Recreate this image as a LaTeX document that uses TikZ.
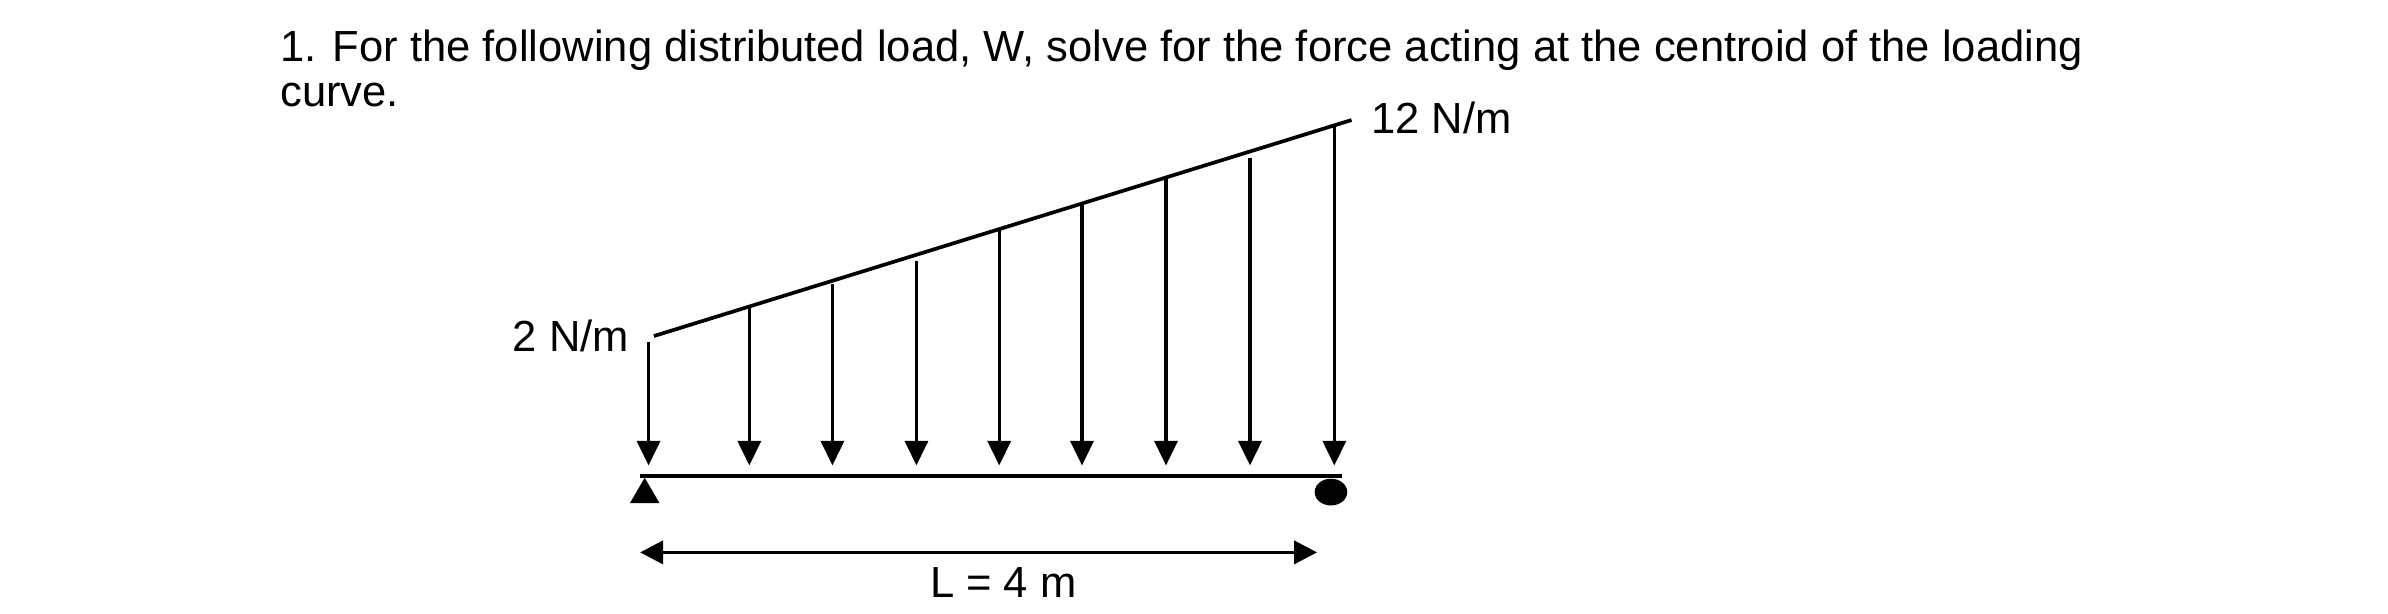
\documentclass[tikz,border=0pt]{standalone}
\usepackage{fontspec}
\setmainfont{Liberation Sans}
\usetikzlibrary{arrows.meta}
\begin{document}
\begin{tikzpicture}[x=1pt,y=-1pt,
  ln/.style={line width=2.4pt},
  load/.style={line width=2.2pt,-{Triangle[width=15pt,length=16pt]}},
  txt/.style={font=\fontsize{28.3}{32}\selectfont,inner sep=0pt}]
\useasboundingbox (0,0) rectangle (1552,399);
\node[txt,anchor=base west] (t1) at (182,40) {1. For the following distributed load, W, solve for the force acting at the centroid of the loading};
\node[txt,anchor=base west] (t2) at (182,69) {curve.};
\coordinate (s0) at (425,218.4);
\coordinate (s1) at (878.4,78);
\draw[ln] (s0) -- (s1);
\node[txt,anchor=base west] (hi) at (891,87) {12 N/m};
\node[txt,anchor=base east] (lo) at (409,228.5) {2 N/m};
\foreach \x/\t [count=\i] in {421.5/222,487/199.3,541/184.6,595.6/169.6,649.4/149,703.2/132.6,757.8/116.5,812.4/102.9,867.2/81.9}{
  \coordinate (a\i) at (\x,\t);
  \coordinate (b\i) at (\x,302.5);
  \draw[load] (a\i) -- (b\i);
}
\coordinate (bl) at (416,309.5);
\coordinate (br) at (872,309.5);
\draw[ln] (bl) -- (br);
\fill (419,310.5) -- (428.6,327) -- (409.4,327) -- cycle;
\fill (865,319.8) ellipse (10.6 and 8.7);
\coordinate (dl) at (416,359);
\coordinate (dr) at (856,359);
\draw[ln,{Triangle[width=15pt,length=15pt]}-{Triangle[width=15pt,length=15pt]}] (dl) -- (dr);
\node[txt,anchor=base] (L) at (652,388.6) {L = 4 m};
\end{tikzpicture}
\end{document}
